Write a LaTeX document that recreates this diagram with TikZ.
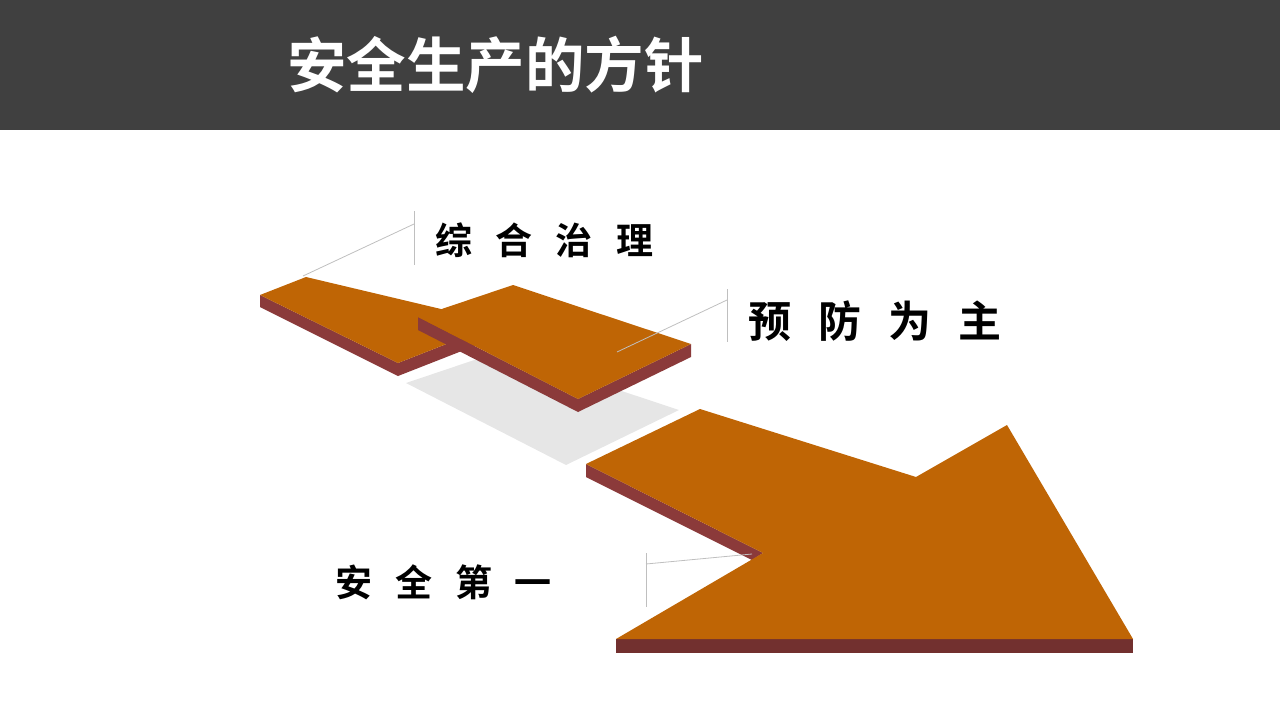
\documentclass[tikz,border=0pt]{standalone}
\usepackage{fontspec}
\newfontfamily\cjk[BoldFont={Noto Sans CJK SC Bold}]{Noto Sans CJK SC}
\definecolor{hdr}{HTML}{404040}
\definecolor{plate}{HTML}{BF6505}
\definecolor{side}{HTML}{8B3A3A}
\definecolor{front}{HTML}{72302F}
\definecolor{shadowc}{HTML}{E6E6E6}
\definecolor{leader}{HTML}{BFBFBF}
\tikzset{
  topface/.style={fill=plate},
  sideface/.style={fill=side},
  frontface/.style={fill=front},
  leaderline/.style={draw=leader, line width=0.8pt},
  label/.style={font=\cjk\bfseries, text=black, inner sep=0pt, anchor=west},
}
\begin{document}
\begin{tikzpicture}[x=1pt,y=-1pt]
\useasboundingbox (0,0) rectangle (1280,720);
% header
\fill[hdr] (0,0) rectangle (1280,130);
\node[font=\fontsize{59.5}{62}\cjk\bfseries, text=white, inner sep=0pt, anchor=west] (title) at (287,65) {安全生产的方针};

% shadow under plate 2
\fill[shadowc] (406,383) -- (501,351) -- (679,410) -- (566,465) -- cycle;

% plate 1
\fill[sideface] (260,295) -- (398,363) -- (398,376) -- (260,307) -- cycle;
\fill[sideface] (398,363) -- (500,323) -- (500,336) -- (398,376) -- cycle;
\fill[topface] (260,295) -- (306,277) -- (500,323) -- (398,363) -- cycle;

% plate 2
\fill[sideface] (418,317) -- (578,399) -- (578,412) -- (418,330) -- cycle;
\fill[sideface] (578,399) -- (691,344) -- (691,357) -- (578,412) -- cycle;
\fill[topface] (418,317) -- (513,285) -- (691,344) -- (578,399) -- cycle;

% arrow
\fill[sideface] (586,464) -- (763,553) -- (752,560) -- (586,477) -- cycle;
\fill[frontface] (616,639) -- (1133,639) -- (1133,653) -- (616,653) -- cycle;
\fill[topface] (586,464) -- (700,409) -- (916,477) -- (1007,425) -- (1133,639) -- (616,639) -- (763,553) -- cycle;

% leader lines
\coordinate (l1top) at (414,211);
\coordinate (l1bot) at (414,265);
\coordinate (l1k) at (414,224);
\coordinate (l1end) at (303,276);
\draw[leaderline] (l1top) -- (l1bot);
\draw[leaderline] (l1k) -- (l1end);

\coordinate (l2top) at (727,289);
\coordinate (l2bot) at (727,342);
\coordinate (l2k) at (727,300);
\coordinate (l2end) at (617,352);
\draw[leaderline] (l2top) -- (l2bot);
\draw[leaderline] (l2k) -- (l2end);

\coordinate (l3top) at (646,553);
\coordinate (l3bot) at (646,607);
\coordinate (l3k) at (646,564);
\coordinate (l3end) at (752,554);
\draw[leaderline] (l3top) -- (l3bot);
\draw[leaderline] (l3k) -- (l3end);

% labels
\node[label, font=\fontsize{37}{40}\cjk\bfseries\addfontfeature{LetterSpace=63}] (zh) at (435,240) {综合治理};
\node[label, font=\fontsize{43}{46}\cjk\bfseries\addfontfeature{LetterSpace=63}] (yf) at (748,321) {预防为主};
\node[label, font=\fontsize{37}{40}\cjk\bfseries\addfontfeature{LetterSpace=62}] (aq) at (335,582) {安全第一};
\end{tikzpicture}
\end{document}
